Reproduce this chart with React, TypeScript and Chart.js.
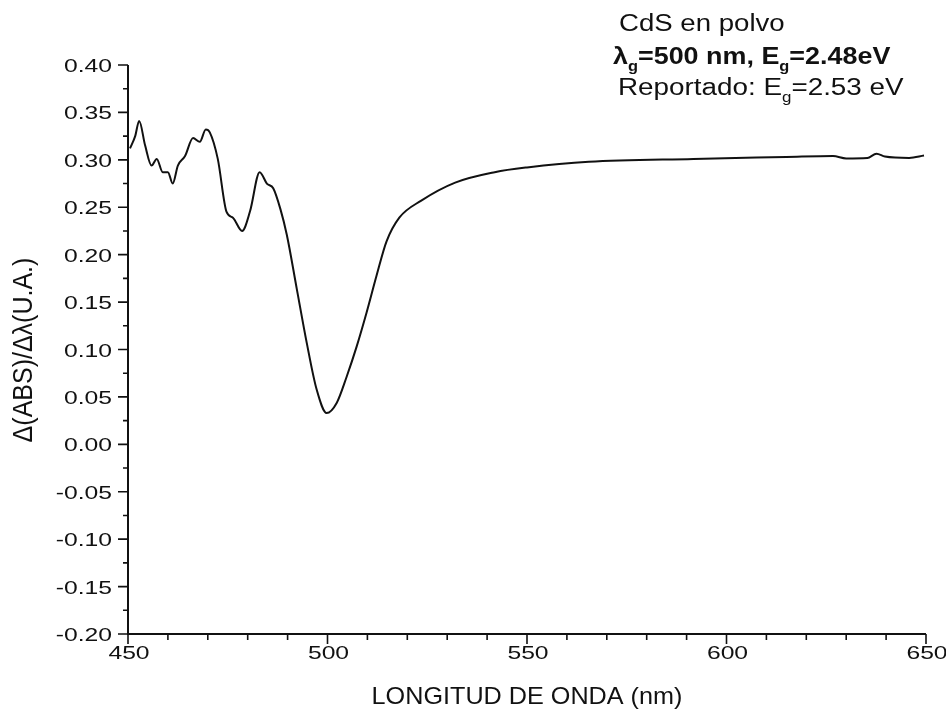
import React, { useEffect, useRef } from "react";
import { Chart, registerables } from "chart.js";

Chart.register(...registerables);

// Wavelength (nm)
const wavelengths = [
  450.5, 451.8, 452.8, 454.3, 455.9, 457.2, 458.7, 460.0, 461.2, 462.5,
  464.3, 466.3, 468.0, 469.5, 470.5, 472.5, 474.7, 476.3, 478.6, 480.6,
  483.0, 484.8, 486.4, 488.2, 489.8, 492.3, 494.8, 497.3, 499.8, 502.3,
  504.8, 507.3, 509.8, 512.3, 514.8, 518.0, 523.5, 532.0, 541.9, 550.0,
  565.5, 591.7, 615.0, 626.7, 630.0, 635.3, 637.6, 639.7, 645.8, 649.5,
];
// d(ABS)/d(lambda)
const derivative = [
  0.312, 0.325, 0.341, 0.315, 0.294, 0.301, 0.287, 0.287, 0.275, 0.294,
  0.304, 0.323, 0.319, 0.332, 0.329, 0.301, 0.245, 0.239, 0.225, 0.246,
  0.287, 0.275, 0.270, 0.248, 0.221, 0.164, 0.107, 0.0575, 0.033, 0.0436,
  0.0713, 0.103, 0.139, 0.178, 0.214, 0.239, 0.257, 0.276, 0.287, 0.292,
  0.298, 0.301, 0.303, 0.304, 0.3015, 0.302, 0.3065, 0.3035, 0.302, 0.3045,
];

const xMajorTicks = [450, 500, 550, 600, 650];
const xMinorTicks = [460, 470, 480, 490, 510, 520, 530, 540, 560, 570, 580, 590, 610, 620, 630, 640];
const yMajorTicks = [0.4, 0.35, 0.3, 0.25, 0.2, 0.15, 0.1, 0.05, 0.0, -0.05, -0.1, -0.15, -0.2];
const yMinorTicks = [0.375, 0.325, 0.275, 0.225, 0.175, 0.125, 0.075, 0.025, -0.025, -0.075, -0.125, -0.175];
const yTickLabels = ["0.40", "0.35", "0.30", "0.25", "0.20", "0.15", "0.10", "0.05", "0.00", "-0.05", "-0.10", "-0.15", "-0.20"];
const xTickLabels = ["450", "500", "550", "600", "650"];

const xTitle = "LONGITUD DE ONDA (nm)";
const yTitle = "\u0394(ABS)/\u0394\u03BB(U.A.)";
const noteLine1 = [{ t: "CdS en polvo" }];
const noteLine2 = [{ t: "\u03BB" }, { t: "g", sub: true }, { t: "=500 nm, E" }, { t: "g", sub: true }, { t: "=2.48eV" }];
const noteLine3 = [{ t: "Reportado: E" }, { t: "g", sub: true }, { t: "=2.53 eV" }];

const FONT = '"Liberation Sans", Arial, sans-serif';
const INK = "#111111";

function stretchText(ctx: CanvasRenderingContext2D, text: string, x: number, y: number, font: string, align: CanvasTextAlign, sx: number) {
  ctx.save();
  ctx.font = font;
  ctx.translate(x, y);
  ctx.scale(sx, 1);
  ctx.textAlign = align;
  ctx.textBaseline = "alphabetic";
  ctx.fillText(text, 0, 0);
  ctx.restore();
}

function richText(ctx: CanvasRenderingContext2D, parts: { t: string; sub?: boolean }[], x: number, y: number, size: number, bold: boolean, sx: number) {
  ctx.save();
  ctx.translate(x, y);
  ctx.scale(sx, 1);
  ctx.textAlign = "left";
  ctx.textBaseline = "alphabetic";
  let cx = 0;
  for (const p of parts) {
    const s = p.sub ? Math.round(size * 0.62) : size;
    ctx.font = `${bold ? "bold " : ""}${s}px ${FONT}`;
    ctx.fillText(p.t, cx, p.sub ? size * 0.3 : 0);
    cx += ctx.measureText(p.t).width;
  }
  ctx.restore();
}

const decorPlugin = {
  id: "decor",
  afterDraw(chart: any) {
    const ctx: CanvasRenderingContext2D = chart.ctx;
    const xs = chart.scales.x;
    const ys = chart.scales.y;
    const { left, right, top, bottom } = chart.chartArea;
    ctx.save();
    ctx.strokeStyle = INK;
    ctx.fillStyle = INK;
    ctx.lineWidth = 2;
    // axis lines
    ctx.beginPath();
    ctx.moveTo(left, top);
    ctx.lineTo(left, bottom);
    ctx.lineTo(right, bottom);
    ctx.stroke();
    ctx.lineWidth = 1.6;
    // y ticks
    ctx.beginPath();
    yMajorTicks.forEach((v) => {
      const y = ys.getPixelForValue(v);
      ctx.moveTo(left - 10, y);
      ctx.lineTo(left, y);
    });
    yMinorTicks.forEach((v) => {
      const y = ys.getPixelForValue(v);
      ctx.moveTo(left - 5, y);
      ctx.lineTo(left, y);
    });
    // x ticks
    xMajorTicks.forEach((v) => {
      const x = xs.getPixelForValue(v);
      ctx.moveTo(x, bottom);
      ctx.lineTo(x, bottom + 10);
    });
    xMinorTicks.forEach((v) => {
      const x = xs.getPixelForValue(v);
      ctx.moveTo(x, bottom);
      ctx.lineTo(x, bottom + 6);
    });
    ctx.stroke();

    // tick labels
    const tickFont = `19px ${FONT}`;
    yMajorTicks.forEach((v, i) => {
      const y = ys.getPixelForValue(v);
      stretchText(ctx, yTickLabels[i], left - 16, y + 7, tickFont, "right", 1.3);
    });
    xMajorTicks.forEach((v, i) => {
      const x = xs.getPixelForValue(v);
      stretchText(ctx, xTickLabels[i], x + 1, bottom + 25, tickFont, "center", 1.3);
    });

    // axis titles
    stretchText(ctx, xTitle, (left + right) / 2, 704, `24px ${FONT}`, "center", 1.05);
    ctx.save();
    ctx.translate(24, 350);
    ctx.scale(1.1, 1);
    ctx.rotate(-Math.PI / 2);
    ctx.font = `25px ${FONT}`;
    ctx.textAlign = "center";
    ctx.textBaseline = "middle";
    ctx.fillText(yTitle, 0, 0);
    ctx.restore();

    // annotation
    richText(ctx, noteLine1, 619, 31, 23, false, 1.2);
    richText(ctx, noteLine2, 613, 64, 23, true, 1.17);
    richText(ctx, noteLine3, 618, 95, 23, false, 1.21);
    ctx.restore();
  },
};

export default function App() {
  const ref = useRef<HTMLCanvasElement | null>(null);
  useEffect(() => {
    document.body.style.margin = "0";
    const canvas = ref.current!;
    const chart = new Chart(canvas, {
      type: "line",
      data: {
        datasets: [
          {
            data: wavelengths.map((w, i) => ({ x: w, y: derivative[i] })),
            borderColor: INK,
            borderWidth: 2,
            pointRadius: 0,
            fill: false,
            cubicInterpolationMode: "monotone",
          },
        ],
      },
      options: {
        animation: false,
        responsive: false,
        devicePixelRatio: 1,
        layout: { padding: { top: 65, right: 20, left: 0, bottom: 0 } },
        plugins: { legend: { display: false }, tooltip: { enabled: false } },
        scales: {
          x: {
            type: "linear",
            min: 450,
            max: 650,
            ticks: { display: false },
            grid: { display: false },
            border: { display: false },
            afterFit: (s: any) => {
              s.height = 89;
            },
          },
          y: {
            type: "linear",
            min: -0.2,
            max: 0.4,
            ticks: { display: false },
            grid: { display: false },
            border: { display: false },
            afterFit: (s: any) => {
              s.width = 128;
            },
          },
        },
      },
      plugins: [decorPlugin],
    } as any);
    return () => chart.destroy();
  }, []);
  return (
    <div style={{ position: "absolute", left: 0, top: 0, width: 946, height: 723, background: "#fff" }}>
      <canvas ref={ref} width={946} height={723} />
    </div>
  );
}
